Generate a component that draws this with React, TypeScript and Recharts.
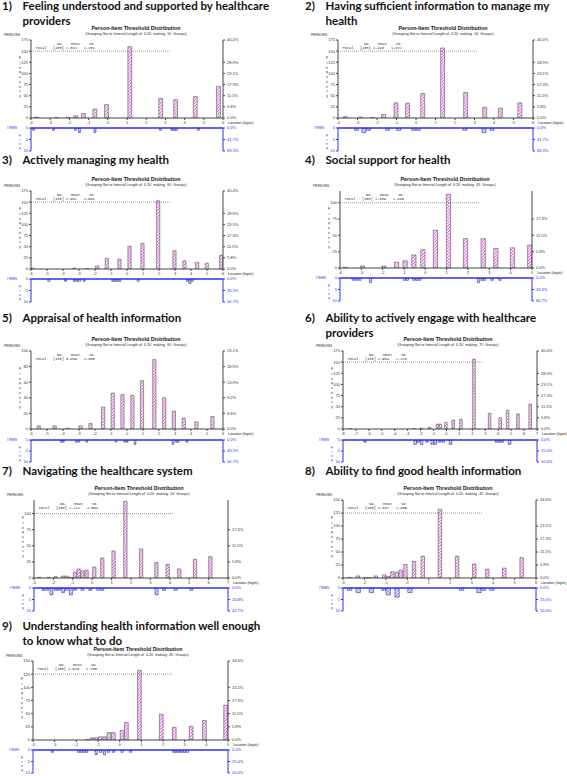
import React from 'react';
import { BarChart, Bar, XAxis, YAxis, CartesianGrid, ReferenceLine } from 'recharts';

// ---------------- DATA ----------------
const PERSON_TOTAL = 433;
const INTERVAL = 0.2;

const panelTitles = [
  ['Feeling understood and supported by healthcare', 'providers'],
  ['Having sufficient information to manage my', 'health'],
  ['Actively managing my health'],
  ['Social support for health'],
  ['Appraisal of health information'],
  ['Ability to actively engage with healthcare', 'providers'],
  ['Navigating the healthcare system'],
  ['Ability to find good health information'],
  ['Understanding health information well enough', 'to know what to do'],
];
const groupCounts = [50, 50, 60, 45, 60, 75, 50, 45, 45];
const personMeans = ['2.314', '1.448', '1.662', '1.459', '0.889', '2.964', '2.122', '1.837', '1.643'];
const personSDs = ['2.151', '1.872', '1.961', '1.489', '1.660', '2.218', '2.594', '1.859', '1.760'];
const itemTotals = [12, 12, 15, 15, 15, 20, 24, 20, 20];

const xDomains: [number, number][] = [[-4, 6], [-4, 6], [-6, 6], [-4, 5], [-6, 6], [-8, 7], [-3, 7], [-3, 6], [-4, 5]];
const yMaxes = [175, 175, 175, 118, 100, 175, 121, 150, 150];
const leftTicks = [
  [0, 25, 50, 75, 100, 125, 150, 175],
  [0, 25, 50, 75, 100, 125, 150, 175],
  [0, 25, 50, 75, 100, 125, 150, 175],
  [0, 25, 50, 75, 100],
  [0, 20, 40, 60, 80, 100],
  [0, 25, 50, 75, 100, 125, 150, 175],
  [0, 25, 50, 75, 100],
  [0, 25, 50, 75, 100, 125, 150],
  [0, 25, 50, 75, 100, 125, 150],
];
const rightTicks = [
  [0, 25, 50, 75, 100, 125, 175],
  [0, 25, 50, 75, 100, 125, 175],
  [0, 25, 50, 75, 100, 125, 175],
  [0, 25, 50, 75],
  [0, 20, 40, 60, 80, 100],
  [0, 25, 50, 75, 100, 125, 175],
  [0, 25, 50, 75],
  [0, 25, 50, 75, 100, 150],
  [0, 25, 50, 75, 100, 150],
];
const statLineValues = [150, 150, 150, 100, null, 150, 100, 125, 125];
const itemTicks = [0, 5, 10];

// Panel 1
const p1PersonLoc = [-3.72, -2.69, -2.08, -1.68, -1.27, -0.68, -0.07, 1.14, 2.75, 3.53, 4.55, 5.76];
const p1PersonFreq = [2, 1, 1, 5, 10, 20, 30, 160, 44, 41, 48, 71];
const p1ItemLoc = [-3.86, -2.82, -1.68, -1.47, -0.66, 2.75, 3.34, 3.47, 3.58, 4.72];
const p1ItemFreq = [1, 1, 1, 2, 2, 1, 1, 1, 1, 1];
// Panel 2
const p2PersonLoc = [-3.66, -2.87, -2.25, -1.69, -1.05, -0.46, 0.32, 1.34, 2.52, 3.5, 4.3, 5.3];
const p2PersonFreq = [3, 2, 1, 8, 34, 33, 55, 157, 57, 24, 22, 34];
const p2ItemLoc = [-3.04, -2.66, -2.42, -1.45, -0.87, -0.1, 0.13, 2.52, 3.5, 3.91];
const p2ItemFreq = [1, 2, 1, 1, 1, 1, 1, 1, 2, 1];
// Panel 3
const p3PersonLoc = [-5.9, -3.29, -2.46, -1.85, -1.25, -0.46, 0.17, 0.98, 1.96, 2.98, 3.6, 4.4, 5.0, 5.9];
const p3PersonFreq = [2, 2, 1, 7, 24, 22, 51, 57, 153, 41, 18, 15, 13, 31];
const p3ItemLoc = [-4.88, -3.83, -3.29, -3.12, -2.96, -2.67, -0.88, -0.73, -0.58, -0.44, 0.71, 3.79, 3.94, 4.08];
const p3ItemFreq = [1, 1, 1, 1, 1, 1, 1, 1, 1, 1, 1, 1, 2, 1];
// Panel 4
const p4PersonLoc = [-3.75, -2.94, -1.94, -1.34, -0.94, -0.53, -0.11, 0.48, 1.09, 1.89, 2.72, 3.31, 4.09, 4.9];
const p4PersonFreq = [1, 3, 3, 9, 11, 20, 28, 58, 113, 45, 45, 30, 31, 35];
const p4ItemLoc = [-3.38, -3.22, -3.06, -2.56, -0.97, -0.84, -0.53, -0.39, -0.25, 2.5, 2.66, 2.78, 3.13, 3.5];
const p4ItemFreq = [1, 1, 1, 2, 1, 1, 1, 1, 1, 2, 1, 1, 1, 1];
// Panel 5
const p5PersonLoc = [-5.5, -4.51, -3.7, -2.89, -2.27, -1.48, -0.88, -0.27, 0.35, 0.95, 1.72, 2.34, 2.94, 3.56, 4.35, 5.35];
const p5PersonFreq = [4, 4, 1, 4, 7, 28, 46, 44, 43, 62, 89, 40, 23, 14, 9, 16];
const p5ItemLoc = [-4.1, -3.97, -3.16, -3.01, -2.51, -0.67, -0.13, 0.02, 0.51, 2.88, 3.09, 3.21, 3.75];
const p5ItemFreq = [1, 1, 1, 1, 1, 1, 1, 1, 2, 2, 1, 1, 1];
// Panel 6
const p6PersonLoc = [-7.43, -2.51, -1.94, -1.3, -0.68, -0.47, -0.04, 0.53, 1.12, 2.13, 3.34, 4.16, 4.73, 5.53, 6.48];
const p6PersonFreq = [1, 1, 2, 4, 11, 11, 15, 20, 22, 157, 35, 25, 42, 34, 56];
const p6ItemLoc = [-6.3, -2.41, -2.18, -1.92, -1.5, -1.09, -0.86, -0.53, -0.24, 0.32, 3.88, 4.11, 4.32, 4.89];
const p6ItemFreq = [1, 2, 1, 2, 1, 2, 2, 1, 1, 2, 1, 1, 1, 2];
// Panel 7
const p7PersonLoc = [-2.72, -2.24, -1.88, -1.49, -1.3, -1.09, -0.88, -0.69, -0.49, -0.28, 0.12, 0.53, 1.11, 1.72, 2.53, 3.32, 3.9, 4.5, 5.31, 6.1];
const p7PersonFreq = [1, 1, 2, 3, 3, 1, 9, 14, 11, 12, 17, 31, 42, 119, 45, 24, 21, 14, 29, 33];
const p7ItemLoc = [-2.5, -2.29, -2.09, -1.86, -1.69, -1.49, -1.3, -1.09, -0.88, -0.49, -0.09, 0.32, 0.53, 3.32, 3.71, 4.31, 5.12];
const p7ItemFreq = [1, 1, 3, 1, 1, 2, 1, 3, 1, 1, 1, 1, 1, 3, 1, 1, 1];
// Panel 8
const p8PersonLoc = [-2.69, -2.29, -1.91, -1.73, -1.46, -1.07, -0.89, -0.69, -0.48, -0.3, -0.08, 0.32, 0.73, 1.53, 2.33, 3.13, 3.74, 4.53, 5.34];
const p8PersonFreq = [1, 4, 1, 1, 4, 6, 3, 12, 11, 15, 26, 32, 42, 132, 42, 27, 17, 19, 39];
const p8ItemLoc = [-2.69, -2.29, -1.68, -1.09, -0.89, -0.48, 0.12, 2.53, 3.34, 3.54, 3.94];
const p8ItemFreq = [1, 2, 2, 1, 3, 4, 2, 1, 2, 1, 1];
// Panel 9
const p9PersonLoc = [-1.5, -1.27, -1.08, -0.88, -0.67, -0.48, -0.28, 0.12, 0.32, 0.92, 1.93, 2.53, 3.31, 3.92, 4.9];
const p9PersonFreq = [1, 4, 4, 6, 6, 14, 14, 18, 33, 132, 49, 24, 26, 37, 66];
const p9ItemLoc = [-3.1, -1.89, -1.76, -1.64, -1.52, -1.08, -0.88, -0.7, -0.51, -0.28, 0.12, 0.51, 2.51, 2.63, 2.76, 2.88, 3.01, 3.14];
const p9ItemFreq = [1, 1, 1, 1, 1, 2, 1, 2, 1, 1, 1, 1, 1, 1, 1, 1, 1, 1];

const personLocs = [p1PersonLoc, p2PersonLoc, p3PersonLoc, p4PersonLoc, p5PersonLoc, p6PersonLoc, p7PersonLoc, p8PersonLoc, p9PersonLoc];
const personFreqs = [p1PersonFreq, p2PersonFreq, p3PersonFreq, p4PersonFreq, p5PersonFreq, p6PersonFreq, p7PersonFreq, p8PersonFreq, p9PersonFreq];
const itemLocs = [p1ItemLoc, p2ItemLoc, p3ItemLoc, p4ItemLoc, p5ItemLoc, p6ItemLoc, p7ItemLoc, p8ItemLoc, p9ItemLoc];
const itemFreqs = [p1ItemFreq, p2ItemFreq, p3ItemFreq, p4ItemFreq, p5ItemFreq, p6ItemFreq, p7ItemFreq, p8ItemFreq, p9ItemFreq];

// ---------------- LAYOUT ----------------
const LAYOUT = [
  { L: 31, R: 223, T: 40, B: 118, IT: 128, IB: 151, tx: 2, ty: 10 },
  { L: 338, R: 533, T: 40, B: 118, IT: 128, IB: 151, tx: 305, ty: 10 },
  { L: 31, R: 223, T: 191, B: 269, IT: 279, IB: 302, tx: 2, ty: 163.5 },
  { L: 340, R: 532, T: 191, B: 268, IT: 278, IB: 301, tx: 305, ty: 163.5 },
  { L: 31, R: 223, T: 351, B: 429, IT: 440, IB: 462, tx: 2, ty: 322 },
  { L: 343, R: 537, T: 351, B: 429, IT: 440, IB: 462, tx: 305, ty: 322 },
  { L: 34, R: 228, T: 500, B: 578, IT: 588, IB: 611, tx: 2, ty: 474.5 },
  { L: 343, R: 536, T: 500, B: 578, IT: 588, IB: 611, tx: 305, ty: 475 },
  { L: 33, R: 228, T: 661, B: 740, IT: 750, IB: 773, tx: 2, ty: 630 },
];

const AXW = 30;
const XAH = 12;
const BLUE = '#2f2ff0';
const GREY = '#444';
const SMALL = 'Liberation Sans, Arial, sans-serif';

const range = (a: number, b: number) => {
  const r: number[] = [];
  for (let v = a; v <= b; v++) r.push(v);
  return r;
};
const pct = (v: number, tot: number) => (v / tot * 100).toFixed(1) + '%';

function PersonChart({ i }: { i: number }) {
  const g = LAYOUT[i];
  const [x0, x1] = xDomains[i];
  const data = personLocs[i].map((x, k) => ({ x, n: personFreqs[i][k] }));
  const plotW = g.R - g.L;
  const barW = plotW * INTERVAL / (x1 - x0);
  const mt = 5;
  const stat = statLineValues[i];
  const gridVals = leftTicks[i].filter((v) => v !== 0 && v !== stat);
  const tickStyle = { fontSize: 4, fill: '#333', fontFamily: SMALL };
  return (
    <div style={{ position: 'absolute', left: g.L - AXW, top: g.T - mt }}>
      <BarChart width={plotW + 2 * AXW} height={g.B - g.T + mt + XAH} data={data}
        margin={{ top: mt, right: 0, bottom: 0, left: 0 }}>
        <CartesianGrid vertical={false} stroke="#555" strokeDasharray="1 1" strokeWidth={0.6}
          horizontalValues={gridVals} />
        <XAxis dataKey="x" type="number" domain={[x0, x1]} ticks={range(x0, x1)} interval={0}
          allowDataOverflow height={XAH} tick={tickStyle} tickSize={2} tickMargin={1} stroke={GREY} />
        <YAxis yAxisId="l" domain={[0, yMaxes[i]]} ticks={leftTicks[i]} interval={0} allowDataOverflow
          width={AXW} tick={tickStyle} tickSize={2} tickMargin={1} stroke={GREY} />
        <YAxis yAxisId="r" orientation="right" domain={[0, yMaxes[i]]} ticks={rightTicks[i]} interval={0}
          allowDataOverflow width={AXW} tick={tickStyle} tickSize={2} tickMargin={2} stroke={GREY}
          tickFormatter={(v: number) => pct(v, PERSON_TOTAL)} />
        {stat != null && (
          <ReferenceLine yAxisId="l" segment={[{ x: x0, y: stat }, { x: x0 + 140 / plotW * (x1 - x0), y: stat }]}
            stroke="#555" strokeDasharray="1 1" strokeWidth={0.6} />
        )}
        <Bar yAxisId="l" dataKey="n" barSize={barW} fill="url(#pinkHatch)" stroke="#555" strokeWidth={0.6}
          isAnimationActive={false} />
      </BarChart>
    </div>
  );
}

function ItemChart({ i }: { i: number }) {
  const g = LAYOUT[i];
  const [x0, x1] = xDomains[i];
  const data = itemLocs[i].map((x, k) => ({ x, n: itemFreqs[i][k] }));
  const plotW = g.R - g.L;
  const barW = plotW * INTERVAL / (x1 - x0);
  const m = 3;
  const tickStyle = { fontSize: 4, fill: BLUE, fontFamily: SMALL };
  return (
    <div style={{ position: 'absolute', left: g.L - AXW, top: g.IT - m }}>
      <BarChart width={plotW + 2 * AXW} height={g.IB - g.IT + 2 * m} data={data}
        margin={{ top: m, right: 0, bottom: m, left: 0 }}>
        <CartesianGrid vertical={false} stroke={BLUE} strokeDasharray="1 1" strokeWidth={0.6}
          horizontalValues={[5, 10]} />
        <XAxis dataKey="x" type="number" domain={[x0, x1]} allowDataOverflow hide />
        <YAxis yAxisId="l" domain={[0, 10]} reversed ticks={itemTicks} interval={0} allowDataOverflow
          width={AXW} tick={tickStyle} tickSize={2} tickMargin={1} stroke={BLUE} />
        <YAxis yAxisId="r" orientation="right" domain={[0, 10]} reversed ticks={itemTicks} interval={0}
          allowDataOverflow width={AXW} tick={tickStyle} tickSize={2} tickMargin={2} stroke={BLUE}
          tickFormatter={(v: number) => pct(v, itemTotals[i])} />
        <ReferenceLine yAxisId="l" y={0} stroke={BLUE} strokeWidth={1.3} />
        <Bar yAxisId="l" dataKey="n" barSize={barW} fill="url(#blueHatch)" stroke="#33339a" strokeWidth={0.6}
          isAnimationActive={false} />
      </BarChart>
    </div>
  );
}

function PanelText({ i }: { i: number }) {
  const g = LAYOUT[i];
  const cx = g.L + 105;
  const lines = panelTitles[i];
  const mono = 'Liberation Mono, Courier New, monospace';
  return (
    <g>
      <text x={g.tx} y={g.ty} fontFamily="Lato, Calibri, sans-serif" fontWeight={700} fontSize={11.5} fill="#111">
        {`${i + 1})`}
      </text>
      {lines.map((t, k) => (
        <text key={k} x={g.tx + 20.5} y={g.ty + k * 14.5} fontFamily="Lato, Calibri, sans-serif" fontWeight={700}
          fontSize={11.5} fill="#111">{t}</text>
      ))}
      <text x={cx} y={g.T - 10.5} textAnchor="middle" fontFamily={SMALL} fontWeight={700} fontSize={5.3} fill="#111">
        Person-Item Threshold Distribution
      </text>
      <text x={cx} y={g.T - 5} textAnchor="middle" fontFamily={SMALL} fontSize={3.7} fill="#222" xmlSpace="preserve">
        {`(Grouping Set to Interval Length of  0.20  making  ${groupCounts[i]}  Groups)`}
      </text>
      <text x={g.L - 27} y={g.T - 4} fontFamily={SMALL} fontSize={3.3} fill="#222">PERSONS</text>
      {'Frequency'.split('').map((c, k) => (
        <text key={k} x={g.L - 11} y={g.T + 19 + k * 4.75} textAnchor="middle" fontFamily={SMALL} fontSize={3.3}
          fill="#222">{c}</text>
      ))}
      <text x={g.L + 26} y={g.T + 4.5} fontFamily={mono} fontSize={3.6} fill="#222">No.</text>
      <text x={g.L + 40} y={g.T + 4.5} fontFamily={mono} fontSize={3.6} fill="#222">Mean</text>
      <text x={g.L + 58} y={g.T + 4.5} fontFamily={mono} fontSize={3.6} fill="#222">SD</text>
      <text x={g.L + 4.5} y={g.T + 9} fontFamily={mono} fontSize={3.6} fill="#222">Total</text>
      <text x={g.L + 22} y={g.T + 9} fontFamily={mono} fontSize={3.6} fill="#222">{`[${PERSON_TOTAL}]`}</text>
      <text x={g.L + 35} y={g.T + 9} fontFamily={mono} fontSize={3.6} fill="#222">{personMeans[i]}</text>
      <text x={g.L + 53} y={g.T + 9} fontFamily={mono} fontSize={3.6} fill="#222">{personSDs[i]}</text>
      <text x={g.R + 5} y={g.B + 6.3} fontFamily={SMALL} fontSize={3.6} fill="#222">Location (logits)</text>
      <text x={g.L - 24} y={g.IT + 1.3} fontFamily={SMALL} fontSize={3.3} fill={BLUE}>ITEMS</text>
      {'Freq'.split('').map((c, k) => (
        <text key={k} x={g.L - 11} y={g.IT + 8.5 + k * 4.3} textAnchor="middle" fontFamily={SMALL} fontSize={3.3}
          fill={BLUE}>{c}</text>
      ))}
    </g>
  );
}

export default function App() {
  const idx = [0, 1, 2, 3, 4, 5, 6, 7, 8];
  return (
    <div style={{ position: 'absolute', left: 0, top: 0, width: 567, height: 776, background: '#fff', overflow: 'hidden' }}>
      <svg width={0} height={0} style={{ position: 'absolute' }}>
        <defs>
          <pattern id="pinkHatch" patternUnits="userSpaceOnUse" width={2.2} height={2.2} patternTransform="rotate(45)">
            <rect width={2.2} height={2.2} fill="#fbe6fb" />
            <line x1={0} y1={0} x2={0} y2={2.2} stroke="#d23cd2" strokeWidth={1.2} />
          </pattern>
          <pattern id="blueHatch" patternUnits="userSpaceOnUse" width={2.2} height={2.2} patternTransform="rotate(45)">
            <rect width={2.2} height={2.2} fill="#eef" />
            <line x1={0} y1={0} x2={0} y2={2.2} stroke="#4a4ad8" strokeWidth={1.1} />
          </pattern>
        </defs>
      </svg>
      {idx.map((i) => <PersonChart key={'p' + i} i={i} />)}
      {idx.map((i) => <ItemChart key={'it' + i} i={i} />)}
      <svg width={567} height={776} style={{ position: 'absolute', left: 0, top: 0, pointerEvents: 'none' }}>
        {idx.map((i) => <PanelText key={'t' + i} i={i} />)}
      </svg>
    </div>
  );
}
